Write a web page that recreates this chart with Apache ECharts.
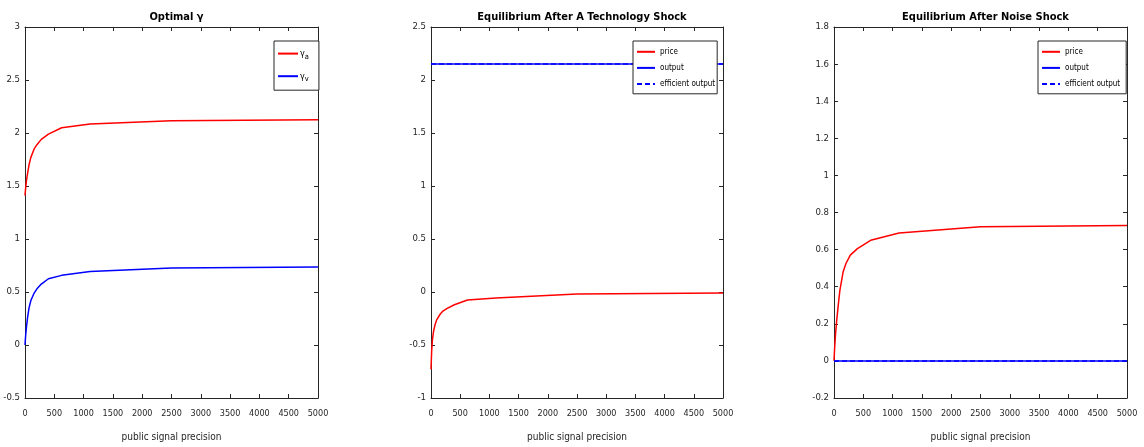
<!DOCTYPE html>
<html>
<head>
<meta charset="utf-8">
<script src="https://cdn.jsdelivr.net/npm/echarts@6/dist/echarts.min.js"></script>
<style>html,body{margin:0;padding:0;background:#fff}#c{width:1144px;height:447px}</style>
</head>
<body>
<div id="c"></div>
<script>
// ---- data ----
var precision = [0, 11, 25, 44, 69, 100, 156, 204, 278, 400, 625, 1111, 2500, 5000];
var gammaA    = [1.41, 1.48, 1.55, 1.62, 1.70, 1.77, 1.85, 1.89, 1.94, 1.99, 2.05, 2.085, 2.115, 2.125];
var gammaV    = [0, 0.09, 0.17, 0.26, 0.35, 0.42, 0.49, 0.53, 0.575, 0.625, 0.657, 0.694, 0.726, 0.736];
var techPrice = [-0.73, -0.56, -0.45, -0.37, -0.31, -0.26, -0.21, -0.18, -0.155, -0.12, -0.075, -0.057, -0.02, -0.01];
var techOutput = [2.15, 2.15, 2.15, 2.15, 2.15, 2.15, 2.15, 2.15, 2.15, 2.15, 2.15, 2.15, 2.15, 2.15];
var techEfficient = [2.15, 2.15, 2.15, 2.15, 2.15, 2.15, 2.15, 2.15, 2.15, 2.15, 2.15, 2.15, 2.15, 2.15];
var noisePrice = [0, 0.07, 0.14, 0.21, 0.29, 0.38, 0.48, 0.525, 0.57, 0.605, 0.65, 0.69, 0.723, 0.73];
var noiseOutput = [0, 0, 0, 0, 0, 0, 0, 0, 0, 0, 0, 0, 0, 0];
var noiseEfficient = [0, 0, 0, 0, 0, 0, 0, 0, 0, 0, 0, 0, 0, 0];
var titles = ['Optimal \u03b3', 'Equilibrium After A Technology Shock', 'Equilibrium After Noise Shock'];
var xName = 'public signal precision';
var xRange = {min: 0, max: 5000, interval: 500};
var yRanges = [{min: -0.5, max: 3, interval: 0.5}, {min: -1, max: 2.5, interval: 0.5}, {min: -0.2, max: 1.8, interval: 0.2}];

function pairs(ys){ return precision.map(function(x,i){return [x, ys[i]];}); }

var FONT = "'Liberation Sans Narrow','DejaVu Sans Condensed','Liberation Sans',sans-serif";
var AX = '#262626';
var grids = [
  {left: 25, top: 27, width: 293, height: 371},
  {left: 431, top: 27, width: 292, height: 371},
  {left: 834, top: 27, width: 293, height: 371}
];

function numFmt(v){ return String(Math.round(v * 1000) / 1000); }

var xAxes = [], yAxes = [], titleArr = [];
grids.forEach(function(g, i){
  titleArr.push({text: titles[i], left: g.left + g.width/2, top: 7, textAlign: 'center',
    textStyle: {fontFamily: FONT, fontSize: 11, fontWeight: 'bold', color: '#000'}});
  xAxes.push({type: 'value', gridIndex: i, min: xRange.min, max: xRange.max, interval: xRange.interval,
    name: xName, nameLocation: 'middle', nameGap: 34,
    nameTextStyle: {fontFamily: FONT, fontSize: 10, color: AX},
    axisLine: {show: true, onZero: false, lineStyle: {color: AX, width: 1}},
    axisTick: {show: true, inside: true, length: 4, lineStyle: {color: AX}},
    axisLabel: {fontFamily: FONT, fontSize: 9, color: AX, margin: 11, formatter: numFmt},
    splitLine: {show: false}});
  xAxes.push({type: 'value', gridIndex: i, position: 'top', min: xRange.min, max: xRange.max, interval: xRange.interval,
    axisLine: {show: true, onZero: false, lineStyle: {color: AX, width: 1}},
    axisTick: {show: true, inside: true, length: 4, lineStyle: {color: AX}},
    axisLabel: {show: false}, splitLine: {show: false}});
  var yr = yRanges[i];
  yAxes.push({type: 'value', gridIndex: i, min: yr.min, max: yr.max, interval: yr.interval,
    axisLine: {show: true, onZero: false, lineStyle: {color: AX, width: 1}},
    axisTick: {show: true, inside: true, length: 4, lineStyle: {color: AX}},
    axisLabel: {fontFamily: FONT, fontSize: 9.5, color: AX, margin: 5, formatter: numFmt},
    splitLine: {show: false}});
  yAxes.push({type: 'value', gridIndex: i, position: 'right', min: yr.min, max: yr.max, interval: yr.interval,
    axisLine: {show: true, onZero: false, lineStyle: {color: AX, width: 1}},
    axisTick: {show: true, inside: true, length: 4, lineStyle: {color: AX}},
    axisLabel: {show: false}, splitLine: {show: false}});
});

function line(name, grid, ys, color, dashed){
  return {type: 'line', name: name, xAxisIndex: grid*2, yAxisIndex: grid*2, data: pairs(ys),
    symbol: 'none', showSymbol: false, silent: true, animation: false,
    lineStyle: {color: color, width: 1.5, type: dashed ? [5, 3] : 'solid'},
    itemStyle: {color: color}};
}

var legendText = {fontFamily: FONT, fontSize: 8, color: '#000'};
var legendBase = {orient: 'vertical', borderColor: AX, borderWidth: 1, borderRadius: 0,
  backgroundColor: '#fff', align: 'left', itemWidth: 19, itemHeight: 12, textStyle: legendText,
  itemStyle: {opacity: 0}, selectedMode: false};

var option = {
  backgroundColor: '#fff',
  animation: false,
  title: titleArr,
  grid: grids,
  xAxis: xAxes,
  yAxis: yAxes,
  legend: [
    Object.assign({}, legendBase, {left: 274, top: 41, padding: [7, 10, 7, 3], itemGap: 10, itemHeight: 14,
      itemWidth: 20,
      data: ['gA', 'gV'],
      formatter: function(n){ return n === 'gA' ? '{g|\u03b3}{s|a}' : '{g|\u03b3}{s|v}'; },
      textStyle: {fontFamily: FONT, fontSize: 9, color: '#000', padding: [0,0,0,-3],
        rich: {g: {fontSize: 9, fontFamily: FONT, color: '#000'},
               s: {fontSize: 7.5, fontFamily: FONT, color: '#000', padding: [6, 0, 0, 0]}}}}),
    Object.assign({}, legendBase, {left: 633, top: 41, padding: [6, 2, 5, 3], itemGap: 6.5,
      itemWidth: 18, data: ['price', 'output', 'efficient output']}),
    Object.assign({}, legendBase, {left: 1038, top: 41, padding: [6, 6, 5, 3], itemGap: 6.5,
      itemWidth: 18, data: ['price', 'output', 'efficient output']})
  ],
  series: [
    line('gA', 0, gammaA, '#ff0000'),
    line('gV', 0, gammaV, '#0000ff'),
    line('efficient output', 1, techEfficient, '#0000ff', true),
    line('price', 1, techPrice, '#ff0000'),
    line('output', 1, techOutput, '#0000ff'),
    line('efficient output', 2, noiseEfficient, '#0000ff', true),
    line('price', 2, noisePrice, '#ff0000'),
    line('output', 2, noiseOutput, '#0000ff')
  ]
};
var chart = echarts.init(document.getElementById('c'), null, {renderer: 'canvas'});
chart.setOption(option);
</script>
</body>
</html>
